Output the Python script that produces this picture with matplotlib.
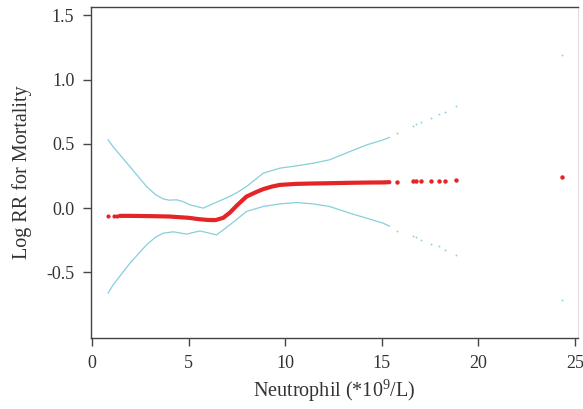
import matplotlib
matplotlib.use("Agg")
import matplotlib.pyplot as plt

plt.rcParams['font.family'] = ['Liberation Serif', 'DejaVu Serif']
plt.rcParams['mathtext.fontset'] = 'custom'
plt.rcParams['mathtext.rm'] = 'Liberation Serif'
plt.rcParams['axes.unicode_minus'] = False

# Curva ajustada (log RR), tramo denso
x_ajuste = [1.45, 2, 3, 4, 4.5, 5, 5.5, 6, 6.4, 6.8, 7.14, 7.5, 8, 8.5, 8.87,
            9.3, 9.73, 10.6, 11.5, 12.3, 13.3, 14.2, 15.0, 15.4]
y_ajuste = [-0.06, -0.06, -0.062, -0.065, -0.07, -0.075, -0.085, -0.092, -0.093,
            -0.075, -0.035, 0.02, 0.09, 0.125, 0.148, 0.167, 0.181, 0.189, 0.192,
            0.194, 0.197, 0.199, 0.2, 0.202]

# Puntos aislados del ajuste
x_ini = [0.83, 1.15, 1.3]
y_ini = [-0.06, -0.06, -0.06]
x_sueltos = [15.8, 16.6, 16.8, 17.05, 17.55, 17.95, 18.3, 18.85, 24.33]
y_sueltos = [0.205, 0.208, 0.209, 0.211, 0.213, 0.214, 0.215, 0.217, 0.245]
sup_sueltos = [0.583, 0.64, 0.655, 0.67, 0.70, 0.733, 0.751, 0.795, 1.19]
inf_sueltos = [-0.174, -0.215, -0.225, -0.246, -0.278, -0.298, -0.324, -0.363, -0.713]

# Intervalo de confianza
x_sup = [0.84, 1.10, 1.97, 2.83, 3.3, 3.69, 4.0, 4.38, 4.7, 5.07, 5.76, 6.28, 6.97,
         7.5, 8.0, 8.87, 9.73, 10.6, 11.46, 12.3, 13.35, 14.22, 15.08, 15.4]
y_sup = [0.531, 0.477, 0.323, 0.168, 0.105, 0.072, 0.062, 0.065, 0.052, 0.026, 0.0,
         0.035, 0.08, 0.12, 0.168, 0.272, 0.311, 0.329, 0.35, 0.376, 0.44, 0.492,
         0.531, 0.55]
x_inf = [0.84, 1.10, 1.97, 2.83, 3.3, 3.69, 4.21, 4.90, 5.59, 6.45, 7.14, 8.0, 8.87,
         9.73, 10.6, 11.46, 12.3, 13.35, 14.22, 15.08, 15.4]
y_inf = [-0.661, -0.596, -0.428, -0.285, -0.225, -0.195, -0.184, -0.202, -0.177,
         -0.208, -0.13, -0.026, 0.013, 0.033, 0.044, 0.033, 0.013, -0.039, -0.078,
         -0.117, -0.14]

rojo = '#e32526'
celeste = '#86cfdb'

fig = plt.figure(figsize=(5.83, 4.09), dpi=100)
ax = fig.add_axes([0.156, 0.1736, 0.835, 0.8094])

ax.plot(x_sup, y_sup, color=celeste, linewidth=0.9)
ax.plot(x_inf, y_inf, color=celeste, linewidth=0.9)
ax.plot(x_sueltos, sup_sueltos, 'o', color=celeste, markersize=1.3, markeredgewidth=0)
ax.plot(x_sueltos, inf_sueltos, 'o', color=celeste, markersize=1.3, markeredgewidth=0)

ax.plot(x_ajuste, y_ajuste, color=rojo, linewidth=3.0, solid_capstyle='round')
ax.plot(x_ini, y_ini, 'o', color=rojo, markersize=3, markeredgewidth=0)
ax.plot(x_sueltos, y_sueltos, 'o', color=rojo, markersize=3.2, markeredgewidth=0)

ax.set_xlim(-0.05, 25.15)
ax.set_ylim(-1.01, 1.565)
ax.set_xticks([0, 5, 10, 15, 20, 25])
ax.set_yticks([-0.5, 0.0, 0.5, 1.0, 1.5])
ax.set_yticklabels(['-0.5', '0.0', '0.5', '1.0', '1.5'])

for lado in ['left', 'bottom', 'top']:
    ax.spines[lado].set_color('#444444')
    ax.spines[lado].set_linewidth(1.0)
ax.spines['right'].set_color('#dddddd')
ax.tick_params(axis='both', direction='out', length=6, width=1.0, color='#444444',
               labelsize=13, labelcolor='#333333', pad=6)

ax.set_xlabel(r'Neutrophil (*10$^{\mathregular{9}}$/L)', fontsize=14.5, color='#333333', labelpad=4)
ax.set_ylabel('Log RR for Mortality', fontsize=14.5, color='#333333', labelpad=10)

fig.savefig('out.png', dpi=100)
